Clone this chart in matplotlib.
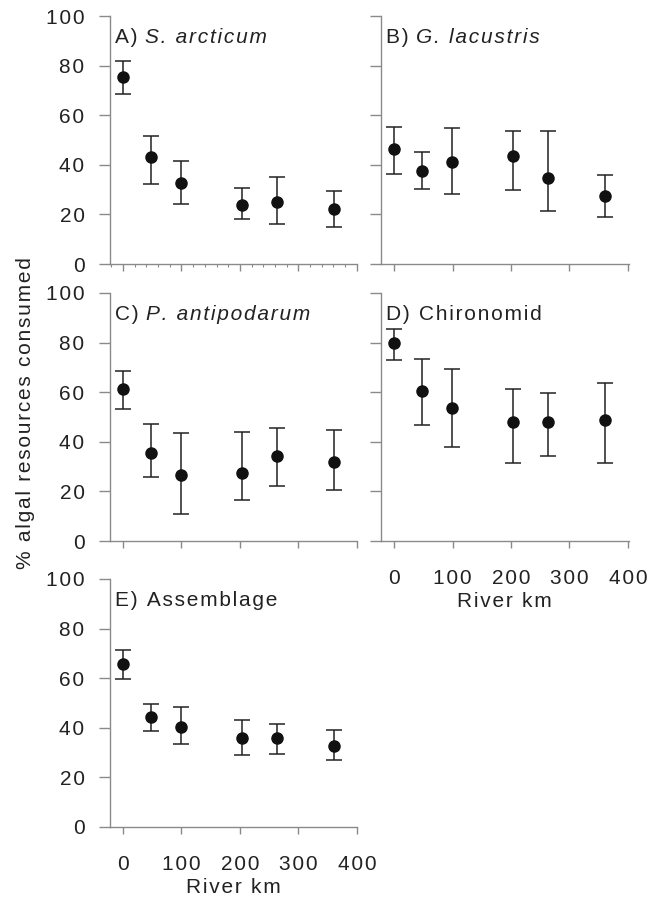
import numpy as np
import matplotlib
matplotlib.use('Agg')
import matplotlib.pyplot as plt
from matplotlib.ticker import MultipleLocator

plt.rcParams['font.family'] = ['Liberation Sans', 'DejaVu Sans']

# river km of the six sites (same in every panel)
river_km = [0, 48, 99, 203, 264, 361]

# mean, upper and lower limits per taxon
arcticum_mean = [75.3, 43.1, 32.8, 23.7, 25.0, 22.3]
arcticum_hi = [81.9, 51.7, 41.4, 30.5, 35.1, 29.4]
arcticum_lo = [68.4, 32.1, 24.3, 18.0, 16.3, 15.0]

lacustris_mean = [46.4, 37.6, 41.1, 43.4, 34.8, 27.3]
lacustris_hi = [55.3, 45.2, 54.8, 53.7, 53.5, 36.0]
lacustris_lo = [36.4, 30.3, 28.1, 30.0, 21.3, 19.0]

antipodarum_mean = [61.2, 35.5, 26.8, 27.6, 34.1, 32.0]
antipodarum_hi = [68.5, 47.0, 43.5, 44.0, 45.4, 44.7]
antipodarum_lo = [53.2, 25.7, 11.0, 16.6, 22.2, 20.6]

chironomid_mean = [79.9, 60.4, 53.8, 47.8, 48.0, 48.7]
chironomid_hi = [85.3, 73.4, 69.3, 61.1, 59.8, 63.9]
chironomid_lo = [72.9, 46.8, 37.8, 31.5, 34.2, 31.5]

assemblage_mean = [65.7, 44.3, 40.5, 35.8, 35.7, 32.8]
assemblage_hi = [71.2, 49.7, 48.2, 43.1, 41.6, 39.2]
assemblage_lo = [59.8, 38.6, 33.4, 29.1, 29.6, 26.9]

x_ticks = [0, 100, 200, 300, 400]
y_ticks = [0, 20, 40, 60, 80, 100]

SPINE = '#8a8a8a'
INK = '#222222'
FS = 15


def spaced(s):
    # the original has loose letter spacing; hair spaces imitate it
    return '\u200a'.join(s)


fig = plt.figure(figsize=(6.6, 8.99), dpi=100)

W = 0.3756
H = 0.2759
left_x, right_x = 0.166, 0.5767
rows = [0.7063, 0.3982, 0.0801]


def panel(pos, mean, hi, lo, label_parts, ylabels=True, xlabels=False, minor=False):
    ax = fig.add_axes(pos)
    mean = np.array(mean)
    yerr = [mean - np.array(lo), np.array(hi) - mean]
    ax.errorbar(river_km, mean, yerr=yerr, fmt='o', color='#111111',
                ecolor=INK, elinewidth=1.1, capsize=5.5, capthick=1.1,
                markersize=8)
    ax.set_xlim(-23, 401)
    ax.set_ylim(0, 100)
    for s in ['top', 'right']:
        ax.spines[s].set_visible(False)
    for s in ['left', 'bottom']:
        ax.spines[s].set_color(SPINE)
        ax.spines[s].set_linewidth(1.0)
    ax.set_xticks(x_ticks)
    ax.set_yticks(y_ticks)
    ax.set_xticklabels([spaced(str(t)) for t in x_ticks])
    ax.set_yticklabels([spaced(str(t)) for t in y_ticks])
    ax.tick_params(axis='y', direction='out', length=8, width=1.0, color=SPINE,
                   pad=10, labelsize=FS, labelleft=ylabels, labelcolor=INK)
    ax.tick_params(axis='x', direction='out', length=5, width=1.0, color=SPINE,
                   pad=15, labelsize=FS, labelbottom=xlabels, labelcolor=INK)
    if minor:
        ax.xaxis.set_minor_locator(MultipleLocator(20))
        ax.tick_params(axis='x', which='minor', direction='out', length=2,
                       width=0.8, color=SPINE)
    if xlabels:
        ax.set_xlabel(spaced('River km'), fontsize=FS, color=INK, labelpad=3)
    # panel label, mixing upright and italic parts
    txt = ax.text(0.022, 0.913, spaced(label_parts[0]), transform=ax.transAxes,
                  fontsize=FS, va='center', ha='left', color=INK)
    if len(label_parts) > 1:
        fig.canvas.draw()
        bb = txt.get_window_extent()
        inv = ax.transAxes.inverted()
        x_end = inv.transform((bb.x1, bb.y0))[0]
        ax.text(x_end, 0.913, spaced(label_parts[1]), transform=ax.transAxes,
                fontsize=FS, va='center', ha='left', style='italic', color=INK)
    return ax


panel([left_x, rows[0], W, H], arcticum_mean, arcticum_hi, arcticum_lo,
      ['A) ', 'S. arcticum'], minor=True)
panel([right_x, rows[0], W, H], lacustris_mean, lacustris_hi, lacustris_lo,
      ['B) ', 'G. lacustris'], ylabels=False)
panel([left_x, rows[1], W, H], antipodarum_mean, antipodarum_hi, antipodarum_lo,
      ['C) ', 'P. antipodarum'])
panel([right_x, rows[1], W, H], chironomid_mean, chironomid_hi, chironomid_lo,
      ['D) Chironomid'], ylabels=False, xlabels=True)
panel([left_x, rows[2], W, H], assemblage_mean, assemblage_hi, assemblage_lo,
      ['E) Assemblage'], xlabels=True)

fig.text(0.039, 0.5406, spaced('% algal resources consumed'), rotation=90,
         fontsize=FS, va='center', ha='center', color=INK)

fig.savefig('out.png', dpi=100)
